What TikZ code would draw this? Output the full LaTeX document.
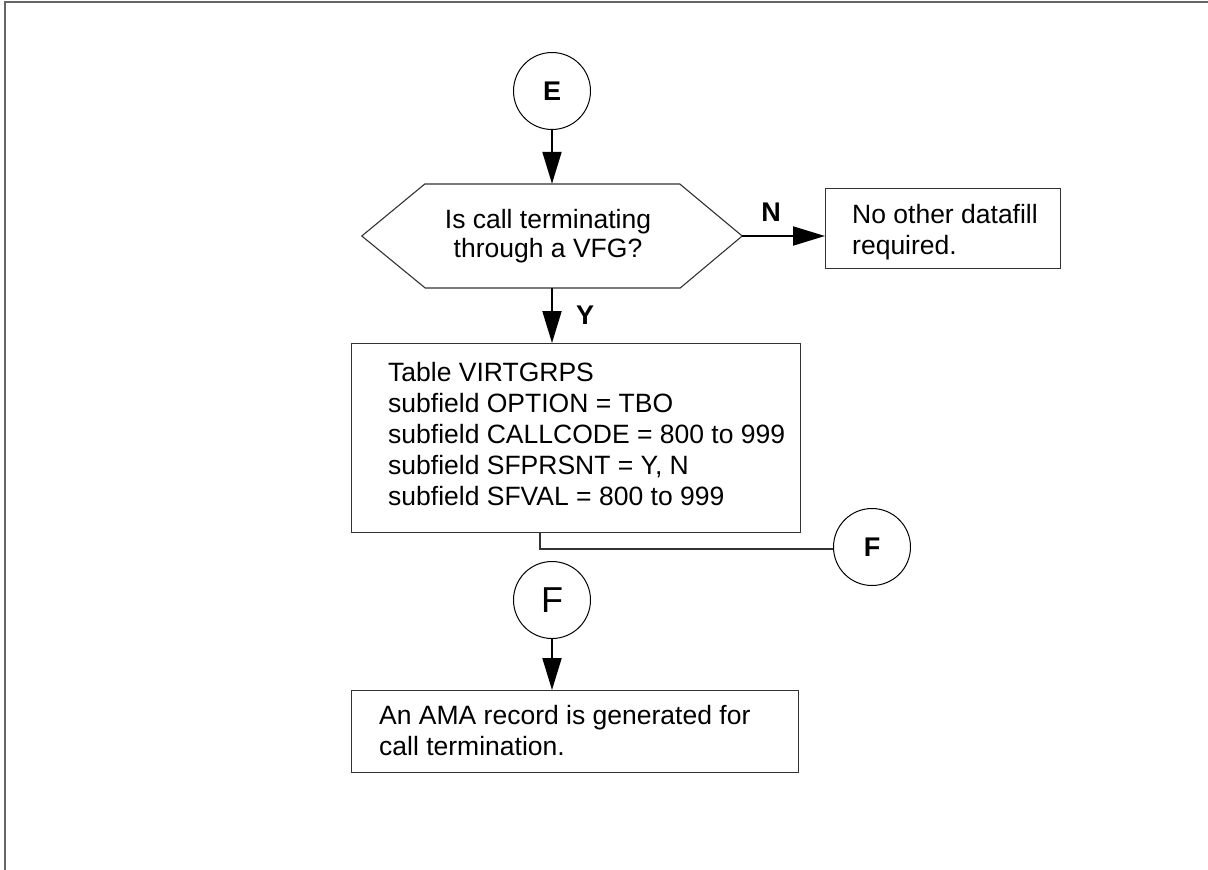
\documentclass[tikz,border=0pt]{standalone}
\usepackage{fontspec}
\setmainfont{Liberation Sans}
\usetikzlibrary{arrows.meta}
\begin{document}
\begin{tikzpicture}[x=1pt,y=-1pt,
  body/.style={font=\fontsize{26.5}{31}\selectfont},
  txt/.style={body, inner sep=0pt, align=left, anchor=north west},
  outline/.style={draw=black!80, line width=1.1pt},
  procbox/.style={outline, rectangle, inner sep=0pt, anchor=north west},
  conn/.style={draw=black, line width=1pt, circle, minimum size=77pt, inner sep=0pt},
  tag/.style={font=\fontsize{27}{27}\selectfont\bfseries, inner sep=0pt},
  flow/.style={line width=2pt, -{Triangle[length=32pt, width=19pt]}},
  link/.style={draw=black!80, line width=1.1pt},
  frame/.style={draw=black!60, line width=2.5pt}
]
\useasboundingbox (0,0) rectangle (1208,870);

% page frame (top and left edges)
\draw[frame] (5,871) -- (5,2) -- (1209,2);

% entry connector
\node[conn, tag] (E) at (552,91) {E};

% decision
\node[body, align=center, inner sep=0pt, minimum width=380pt, minimum height=104pt] (dec) at (552,236) {};
\node[align=center, inner sep=0pt, font=\fontsize{26.5}{29.5}\selectfont] (dectxt) at (548,236)
      {Is call terminating\\through a VFG?};
\draw[outline] (dec.west) -- ++(63,-52) -- ++(255,0) -- (dec.east)
  -- ++(-62,52) -- ++(-255,0) -- cycle;
\draw[flow] (E) -- (dec.north);

% "no" branch
\node[procbox, minimum width=235pt, minimum height=80pt] (nobox) at (825,188) {};
\node[txt] (notxt) at (852,204) {No other datafill\\required.};
\draw[flow] (dec.east) -- (dec.east -| nobox.west);
\node[tag] (nlab) at (771,212) {N};

% "yes" branch
\node[procbox, minimum width=449pt, minimum height=189pt] (virt) at (351,343) {};
\node[txt] (virttxt) at (388,362)
  {Table VIRTGRPS\\subfield OPTION = TBO\\subfield CALLCODE = 800 to 999\\subfield SFPRSNT = Y, N\\subfield SFVAL = 800 to 999};
\draw[flow] (dec.south) -- (dec.south |- virt.north);
\node[tag] (ylab) at (585,315) {Y};

% off-page connector F
\node[conn, tag] (Fout) at (872,547) {F};
\coordinate (bend) at (540,549);
\draw[link] (virt.south -| bend) -- (bend) -- (bend -| Fout.west);

% continuation from F
\node[conn, font=\fontsize{36}{36}\selectfont] (Fin) at (552,600) {F};
\node[procbox, minimum width=447pt, minimum height=82pt] (ama) at (351,690) {};
\node[txt] (amatxt) at (379,705) {An AMA record is generated for\\call termination.};
\draw[flow] (Fin) -- (Fin |- ama.north);
\end{tikzpicture}
\end{document}
